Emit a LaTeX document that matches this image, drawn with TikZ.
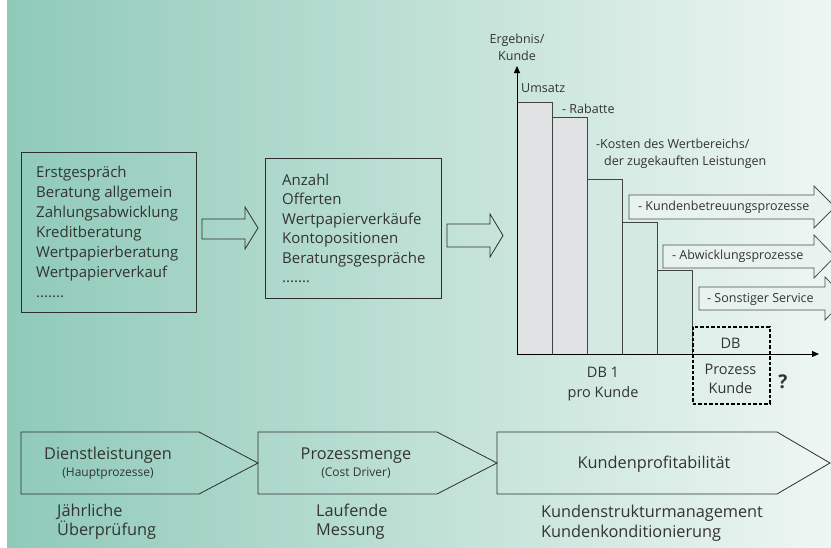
\documentclass[tikz,border=0pt]{standalone}
\usepackage{fontspec}
\setmainfont{Open Sans}
\usetikzlibrary{arrows.meta}
\definecolor{bgL}{HTML}{8FCAB8}
\definecolor{bgR}{HTML}{EEF6F3}
\definecolor{ink}{HTML}{333333}
\definecolor{edge}{HTML}{2E2E2E}
\definecolor{barGray}{HTML}{E1E2E4}
\definecolor{barMint}{HTML}{D3EAE3}
\definecolor{arrFill}{HTML}{E8F3EF}
\newcommand\mydotrow{.......}
\begin{document}
\begin{tikzpicture}[x=1pt,y=-1pt,
  txt/.style={text=ink,inner sep=0pt,font=\fontsize{15}{18}\selectfont},
  chartlbl/.style={text=ink,inner sep=0pt,font=\fontsize{12.5}{15}\selectfont},
  dblbl/.style={text=ink,inner sep=0pt,font=\fontsize{14.5}{17}\selectfont},
  steplbl/.style={text=ink,inner sep=0pt,font=\fontsize{16.3}{19}\selectfont},
  sublbl/.style={text=ink,inner sep=0pt,font=\fontsize{12}{14}\selectfont},
  frame/.style={draw=edge,line width=0.8pt},
  blockarrow/.style={draw=edge!85,line width=0.8pt,fill=arrFill},
  hollowarrow/.style={draw=edge,line width=0.8pt},
  bar/.style={draw=edge!90,line width=0.8pt},
  axis/.style={draw=black,line width=1pt,-{Triangle[length=7pt,width=6pt]}}
]
\useasboundingbox (0,0) rectangle (831,547);
\clip (0,0) rectangle (831,547);
\fill[white] (0,0) rectangle (7,547);
\shade[left color=bgL,right color=bgR] (7,0) rectangle (831,547);

% ---- box 1 ----
\node[frame,anchor=north west,minimum width=175,minimum height=160,inner sep=0] (box1) at (21,152) {};
\foreach \t [count=\i from 0] in {Erstgespräch,Beratung allgemein,Zahlungsabwicklung,Kreditberatung,Wertpapierberatung,Wertpapierverkauf,\mydotrow}
  \node[txt,anchor=base west] (bxa\i) at (36,177+20*\i) {\t};

% hollow arrow 1
\draw[hollowarrow] (202,219) -- (245,219) -- (245,207) -- (258,228) -- (245,249) -- (245,239) -- (202,239) -- cycle;

% ---- box 2 ----
\node[frame,anchor=north west,minimum width=176,minimum height=140,inner sep=0] (box2) at (265,158) {};
\foreach \t [count=\i from 0] in {Anzahl,Offerten,Wertpapierverkäufe,Kontopositionen,Beratungsgespräche,\mydotrow}
  \node[txt,anchor=base west] (bxb\i) at (282,185+19.5*\i) {\t};

% hollow arrow 2
\draw[hollowarrow] (447,224) -- (490,224) -- (490,214) -- (503,235.5) -- (490,257) -- (490,247) -- (447,247) -- cycle;

% ---- chart ----
\fill[barGray] (517,102) rectangle (552,354);
\fill[barGray] (552,117) rectangle (587,354);
\fill[barMint] (587,179) rectangle (622,354);
\fill[barMint] (622,222) rectangle (657,354);
\fill[barMint] (657,270) rectangle (692,354);
\draw[bar] (517,354) |- (552,102) -- (552,354);
\draw[bar] (552,354) |- (587,117) -- (587,354);
\draw[bar] (587,354) |- (622,179) -- (622,354);
\draw[bar] (622,354) |- (657,222) -- (657,354);
\draw[bar] (657,354) |- (692,270) -- (692,354);

% block arrows
\draw[blockarrow] (629,195) -- (814,195) -- (814,186) -- (835,207) -- (814,228) -- (814,219) -- (629,219) -- cycle;
\draw[blockarrow] (663,245) -- (814,245) -- (814,235) -- (835,256.5) -- (814,278) -- (814,268) -- (663,268) -- cycle;
\draw[blockarrow] (699,287) -- (825,287) -- (825,277) -- (846,298.5) -- (825,320) -- (825,310) -- (699,310) -- cycle;

\coordinate (origin) at (517,354);
\coordinate (ytop) at (517,66);
\coordinate (xend) at (819,354);
\draw[axis] (origin) -- (ytop);
\draw[axis] (origin) -- (xend);

\node[chartlbl,anchor=base] (erg) at (517,43) {Ergebnis/};
\node[chartlbl,anchor=base] (kun) at (517,60) {Kunde};
\node[chartlbl,anchor=base west] (ums) at (521,92) {Umsatz};
\node[chartlbl,anchor=base west] (rab) at (562,113) {- Rabatte};
\node[chartlbl,anchor=base west] (kos1) at (596,148) {-Kosten des Wertbereichs/};
\node[chartlbl,anchor=base west] (kos2) at (604,165) {der zugekauften Leistungen};
\node[chartlbl,anchor=base west] (kbp) at (638,210) {- Kundenbetreuungsprozesse};
\node[chartlbl,anchor=base west] (awp) at (672,259) {- Abwicklungsprozesse};
\node[chartlbl,anchor=base west] (sts) at (707,302) {- Sonstiger Service};

\node[draw=black,line width=1.6pt,dash pattern=on 3.5pt off 2pt,anchor=north west,minimum width=77,minimum height=77,inner sep=0] (dbbox) at (692,326) {};
\node[dblbl,anchor=base] (db) at (730.5,348) {DB};
\node[dblbl,anchor=base] (proz) at (730.5,374) {Prozess};
\node[dblbl,anchor=base] (kund) at (730.5,393) {Kunde};
\node[text=ink,inner sep=0pt,anchor=base,font=\fontsize{19}{22}\selectfont\bfseries] (q) at (783,388) {?};
\node[dblbl,anchor=base] (db1) at (603,377) {DB 1};
\node[dblbl,anchor=base] (prok) at (603,397) {pro Kunde};

% ---- bottom process chain ----
\draw[frame] (21,432) -- (199,432) -- (258,463) -- (199,494) -- (21,494) -- cycle;
\draw[frame] (258,432) -- (437,432) -- (497,463) -- (437,494) -- (258,494) -- cycle;
\draw[frame] (497,432) -- (777,432) -- (830,463) -- (777,494) -- (497,494) -- cycle;
\node[steplbl,anchor=base] (dl) at (108,459) {Dienstleistungen};
\node[sublbl,anchor=base] (hp) at (108,476) {(Hauptprozesse)};
\node[steplbl,anchor=base] (pm) at (356,459) {Prozessmenge};
\node[sublbl,anchor=base] (cd) at (356,476) {(Cost Driver)};
\node[steplbl,anchor=base] (kp) at (654,468) {Kundenprofitabilität};

\node[steplbl,anchor=base west] (jr) at (57,516) {Jährliche};
\node[steplbl,anchor=base west] (ub) at (57,535) {Überprüfung};
\node[steplbl,anchor=base west] (lf) at (316,516) {Laufende};
\node[steplbl,anchor=base west] (ms) at (316,535) {Messung};
\node[steplbl,anchor=base west] (ksm) at (541,517) {Kundenstrukturmanagement};
\node[steplbl,anchor=base west] (kko) at (541,537) {Kundenkonditionierung};
\end{tikzpicture}
\end{document}
